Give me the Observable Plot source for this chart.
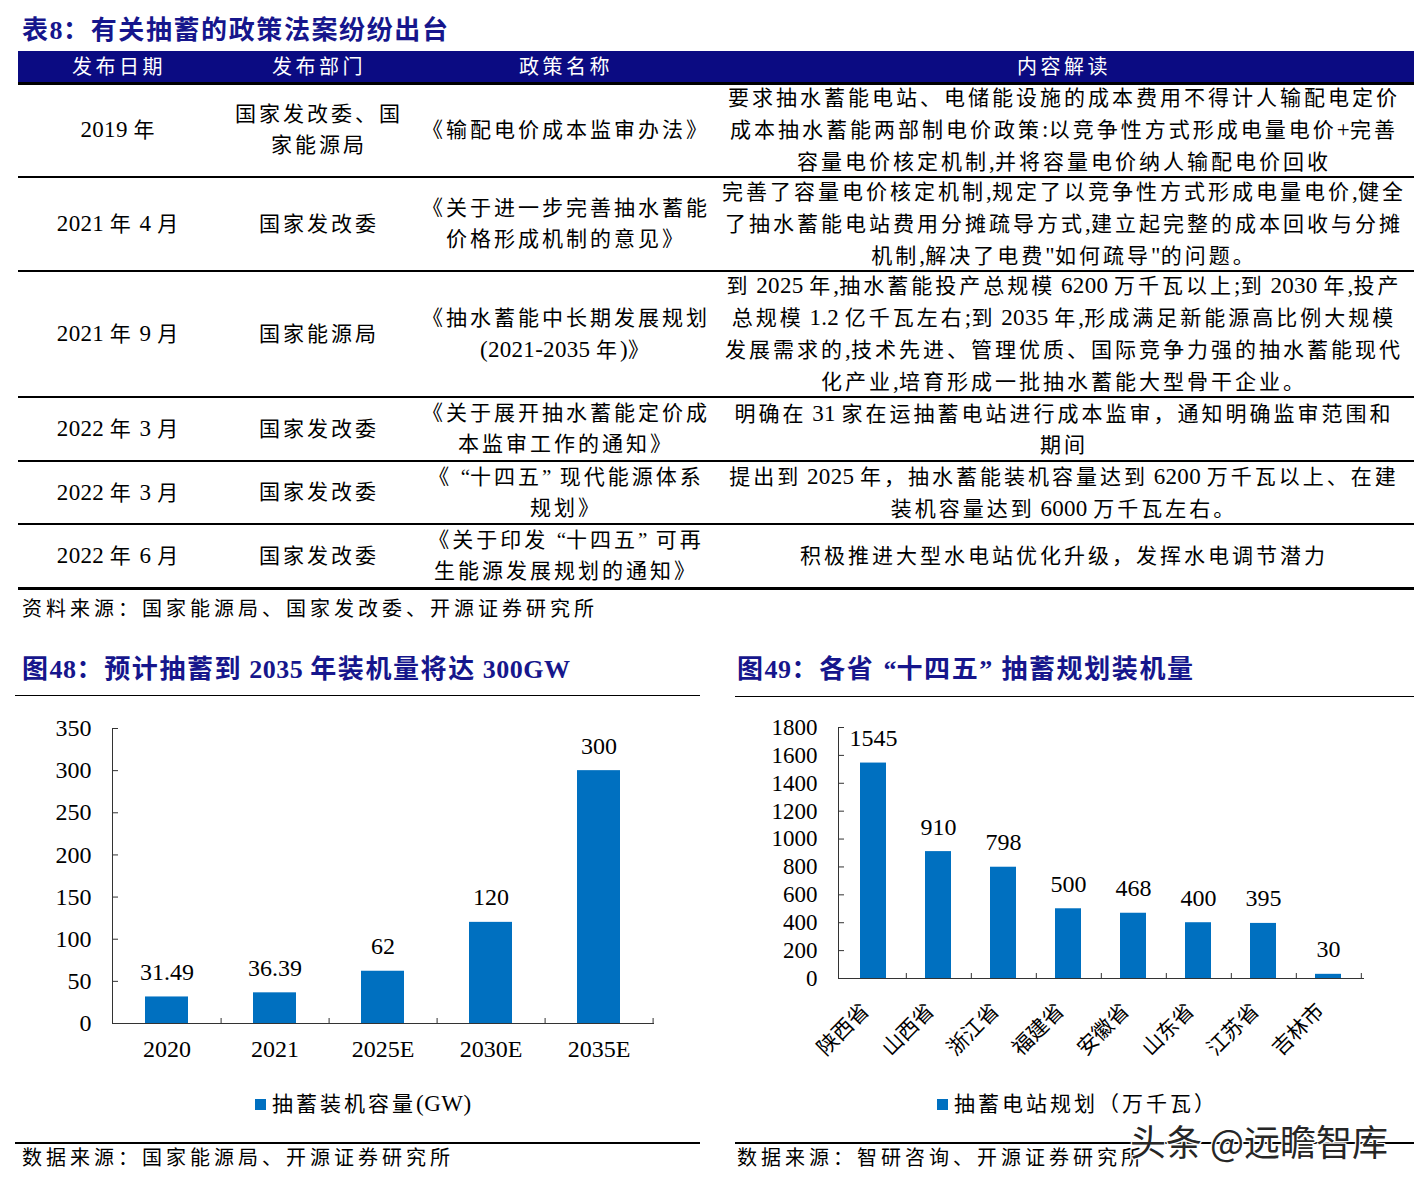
<!DOCTYPE html>
<html><head><meta charset="utf-8">
<script src="https://cdn.jsdelivr.net/npm/d3@7"></script>
<script src="https://cdn.jsdelivr.net/npm/@observablehq/plot@0.6"></script>
<style>
html,body{margin:0;padding:0;background:#fff;}
body{width:1425px;height:1191px;position:relative;overflow:hidden;font-family:"Liberation Serif","Noto Sans CJK SC",serif;color:#000;}
.abs{position:absolute;}
.title{color:#16168c;font-weight:bold;font-size:26px;letter-spacing:1.6px;white-space:nowrap;line-height:30px;font-family:"Liberation Serif","Noto Sans CJK SC",serif;}
.title .lat{letter-spacing:0.5px;}
.cell{position:absolute;display:flex;align-items:center;justify-content:center;white-space:nowrap;font-size:21px;letter-spacing:3px;line-height:31px;}
.cell > div{text-align:center;white-space:nowrap;}
.cell .lat{font-size:23px;letter-spacing:0.3px;}
.sp{letter-spacing:0.5px;}
.ql,.qr{display:inline-block;width:0.85em;letter-spacing:0;}
.ql{text-align:right;}
.qr{text-align:left;}
.hcell{position:absolute;display:flex;align-items:center;justify-content:center;white-space:nowrap;color:#fff;font-size:20px;letter-spacing:3.5px;}
.rule{position:absolute;background:#000;}
.src{position:absolute;white-space:nowrap;font-size:20px;letter-spacing:4px;line-height:24px;}
.legend{position:absolute;white-space:nowrap;font-size:21px;letter-spacing:3px;display:flex;align-items:center;line-height:24px;}
.legend .lat{font-size:23px;letter-spacing:0.5px;}
.legend .sw{display:inline-block;width:11px;height:11px;background:#0070C0;margin-right:6px;}
.wm{position:absolute;white-space:nowrap;font-size:36px;line-height:40px;color:#262626;font-family:"Noto Sans CJK SC",sans-serif;
 text-shadow:1px 1px 0 #fff,-1px -1px 0 #fff,1px -1px 0 #fff,-1px 1px 0 #fff,0 0 3px #fff;}
</style></head><body>
<script>
// ---------- DATA ----------
const tableTitle = "表8：有关抽蓄的政策法案纷纷出台";
const tableHeaders = ["发布日期", "发布部门", "政策名称", "内容解读"];
const policyDates = ["2019 年", "2021 年 4 月", "2021 年 9 月", "2022 年 3 月", "2022 年 3 月", "2022 年 6 月"];
const policyDepts = [["国家发改委、国", "家能源局"], ["国家发改委"], ["国家能源局"], ["国家发改委"], ["国家发改委"], ["国家发改委"]];
const policyNames = [
  ["《输配电价成本监审办法》"],
  ["《关于进一步完善抽水蓄能", "价格形成机制的意见》"],
  ["《抽水蓄能中长期发展规划", "(2021-2035 年)》"],
  ["《关于展开抽水蓄能定价成", "本监审工作的通知》"],
  ["《“十四五”现代能源体系", "规划》"],
  ["《关于印发“十四五”可再", "生能源发展规划的通知》"]
];
const policyContents = [
  ["要求抽水蓄能电站、电储能设施的成本费用不得计人输配电定价", "成本抽水蓄能两部制电价政策:以竞争性方式形成电量电价+完善", "容量电价核定机制,并将容量电价纳人输配电价回收"],
  ["完善了容量电价核定机制,规定了以竞争性方式形成电量电价,健全", "了抽水蓄能电站费用分摊疏导方式,建立起完整的成本回收与分摊", "机制,解决了电费\"如何疏导\"的问题。"],
  ["到 2025 年,抽水蓄能投产总规模 6200 万千瓦以上;到 2030 年,投产", "总规模 1.2 亿千瓦左右;到 2035 年,形成满足新能源高比例大规模", "发展需求的,技术先进、管理优质、国际竞争力强的抽水蓄能现代", "化产业,培育形成一批抽水蓄能大型骨干企业。"],
  ["明确在 31 家在运抽蓄电站进行成本监审，通知明确监审范围和", "期间"],
  ["提出到 2025 年，抽水蓄能装机容量达到 6200 万千瓦以上、在建", "装机容量达到 6000 万千瓦左右。"],
  ["积极推进大型水电站优化升级，发挥水电调节潜力"]
];
const tableSource = "资料来源：国家能源局、国家发改委、开源证券研究所";

const chart1Title = "图48：预计抽蓄到 2035 年装机量将达 300GW";
const chart1Years = ["2020", "2021", "2025E", "2030E", "2035E"];
const chart1Values = [31.49, 36.39, 62, 120, 300];
const chart1ValueLabels = ["31.49", "36.39", "62", "120", "300"];
const chart1YTicks = [0, 50, 100, 150, 200, 250, 300, 350];
const chart1Legend = "抽蓄装机容量(GW)";
const chart1Source = "数据来源：国家能源局、开源证券研究所";

const chart2Title = "图49：各省“十四五”抽蓄规划装机量";
const chart2Provinces = ["陕西省", "山西省", "浙江省", "福建省", "安徽省", "山东省", "江苏省", "吉林市"];
const chart2Values = [1545, 910, 798, 500, 468, 400, 395, 30];
const chart2YTicks = [0, 200, 400, 600, 800, 1000, 1200, 1400, 1600, 1800];
const chart2Legend = "抽蓄电站规划（万千瓦）";
const chart2Source = "数据来源：智研咨询、开源证券研究所";
const watermark = "头条 @远瞻智库";

// ---------- LAYOUT ----------
const body = d3.select("body");
function div(cls, style, html) {
  const d = body.append("div").attr("class", cls);
  for (const k in style) d.style(k, style[k]);
  if (html != null) d.html(html);
  return d;
}
const px = v => v + "px";
const esc = s => s.replace(/&/g, "&amp;").replace(/</g, "&lt;");
const fmt = s => esc(s)
  .replace(/[\x21-\x7e]+/g, m => `<span class="lat">${m}</span>`)
  .replace(/“/g, '<span class="ql">“</span>')
  .replace(/”/g, '<span class="qr">”</span>')
  .replace(/ (?![^<]*>)/g, '<span class="sp"> </span>');

// Table title
div("abs title", {left: px(22), top: px(16)}, fmt(tableTitle));

// Table geometry
const colEdges = [18, 220, 418, 714, 1414];
const headerTop = 51, headerH = 31;
const rowHeights = [94, 94, 126, 64, 63, 64];
div("abs", {left: px(18), top: px(headerTop), width: px(1396), height: px(headerH + 1), background: "#0b0b82"});
tableHeaders.forEach((h, j) => {
  div("hcell", {left: px(colEdges[j]), top: px(headerTop - 1), width: px(colEdges[j + 1] - colEdges[j]), height: px(headerH)}, h);
});
div("rule", {left: px(18), top: px(82), width: px(1396), height: px(3)});

let y = 84;
policyDates.forEach((d, i) => {
  const h = rowHeights[i];
  const cols = [[d], policyDepts[i], policyNames[i], policyContents[i]];
  cols.forEach((lines, j) => {
    const w = colEdges[j + 1] - colEdges[j];
    div("cell", {left: px(colEdges[j]), top: px(y), width: px(w), height: px(h - 2)},
      "<div>" + lines.map(fmt).join("<br>") + "</div>");
  });
  y += h;
  div("rule", {left: px(18), top: px(y - 2), width: px(1396), height: px(i === rowHeights.length - 1 ? 3 : 2)});
});
div("src", {left: px(22), top: px(597)}, tableSource);

// Chart titles + rules
div("abs title", {left: px(22), top: px(655)}, fmt(chart1Title));
div("abs title", {left: px(737), top: px(655)}, fmt(chart2Title));
div("rule", {left: px(15), top: px(695), width: px(685), height: px(1)});
div("rule", {left: px(735), top: px(696), width: px(679), height: px(1)});
div("rule", {left: px(15), top: px(1142), width: px(685), height: px(2)});
div("rule", {left: px(735), top: px(1142), width: px(679), height: px(2)});
div("src", {left: px(22), top: px(1146)}, chart1Source);
div("src", {left: px(737), top: px(1146)}, chart2Source);

// Legends
const lg1 = div("legend", {left: px(255), top: px(1092)});
lg1.append("span").attr("class", "sw"); lg1.append("span").html(fmt(chart1Legend));
const lg2 = div("legend", {left: px(937), top: px(1092)});
lg2.append("span").attr("class", "sw"); lg2.append("span").html(fmt(chart2Legend));

// ---------- CHARTS ----------
const fontFam = '"Liberation Serif","Noto Sans CJK SC",serif';
const axisColor = "#333";

function barChart({cats, values, labels, yTicks, yMax, width, height, ml, mr, mt, mb, xAxisOpts, yFont, left, top}) {
  const data = cats.map((c, i) => ({cat: c, v: values[i], label: labels[i]}));
  const step = (width - ml - mr) / cats.length;
  const svg = Plot.plot({
    width, height, marginLeft: ml, marginRight: mr, marginTop: mt, marginBottom: mb,
    style: {fontFamily: fontFam, fontSize: "22px", color: "#000", background: "transparent", overflow: "visible"},
    x: {domain: cats, paddingInner: 0.6, paddingOuter: 0.3, axis: null, label: null},
    y: {domain: [0, yMax], axis: null, label: null},
    marks: [
      Plot.barY(data, {x: "cat", y: "v", fill: "#0070C0"}),
      Plot.text(data, {x: "cat", y: "v", text: "label", lineAnchor: "bottom", dy: -17, fontSize: 24, fill: "#000"}),
      Plot.axisY({ticks: yTicks, tickSize: 0, tickPadding: 21, fontSize: yFont, fill: "#000", label: null, tickFormat: d => String(d)}),
      Plot.axisY({ticks: yTicks, tickSize: 6, dx: 6, tickFormat: () => "", stroke: axisColor, label: null}),
      Plot.axisX({tickSize: 0, fill: "#000", label: null, ...xAxisOpts}),
      Plot.axisX({tickSize: 5, dy: -5, dx: step / 2, tickFormat: () => "", stroke: axisColor, label: null}),
      Plot.frame({anchor: "left", stroke: axisColor}),
      Plot.frame({anchor: "bottom", stroke: axisColor})
    ]
  });
  const wrap = body.append("div").attr("class", "abs").style("left", px(left)).style("top", px(top));
  wrap.node().appendChild(svg);
}

barChart({
  cats: chart1Years, values: chart1Values, labels: chart1ValueLabels, yTicks: chart1YTicks, yMax: 350,
  width: 700, height: 380, ml: 112, mr: 47, mt: 28, mb: 57, left: 0, top: 700, yFont: 24,
  xAxisOpts: {tickPadding: 16, fontSize: 24}
});
barChart({
  cats: chart2Provinces, values: chart2Values, labels: chart2Values.map(String), yTicks: chart2YTicks, yMax: 1800,
  width: 700, height: 380, ml: 118, mr: 57, mt: 27, mb: 102, left: 720, top: 700, yFont: 23,
  xAxisOpts: {tickPadding: 29, tickRotate: -45, fontSize: 21, dx: -8}
});

div("wm", {left: px(1130), top: px(1120)}, watermark);
</script>
</body></html>
